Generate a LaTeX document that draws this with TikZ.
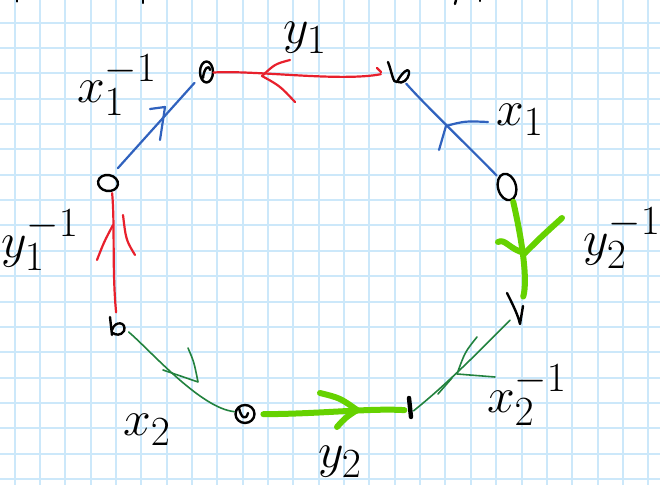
\documentclass[tikz,border=0pt]{standalone}
\usetikzlibrary{shapes.geometric}
\definecolor{gridblue}{RGB}{204,232,250}
\definecolor{penred}{RGB}{232,32,44}
\definecolor{penblue}{RGB}{48,98,190}
\definecolor{pendkgreen}{RGB}{34,130,62}
\definecolor{penlime}{RGB}{102,210,0}
\begin{document}
\begin{tikzpicture}[x=0.5pt,y=-0.5pt,line cap=round,line join=round,
    vtx/.style={circle,inner sep=0pt,minimum size=4pt},
    pen/.style={black,line width=1.2pt},
    redpen/.style={penred,line width=1.1pt},
    bluepen/.style={penblue,line width=1.1pt},
    dkpen/.style={pendkgreen,line width=0.8pt},
    limepen/.style={penlime,line width=3pt},
    lbl/.style={inner sep=0pt,font=\fontsize{30}{34}\selectfont}]
  \fill[white] (0,0) rectangle (660,485);
  \useasboundingbox (0,0) rectangle (660,485);
  % grid paper
  \foreach \i in {0,...,25}
    \draw[gridblue,line width=1pt] ({14.5+25.35*\i},0) -- ({14.5+25.35*\i},485);
  \foreach \j in {0,...,18}
    \draw[gridblue,line width=1pt] (0,{22.7+25.35*\j}) -- (660,{22.7+25.35*\j});
  % vertices
  \node[vtx] (a) at (206.5,72) {};
  \node[vtx] (b) at (398,72) {};
  \node[vtx] (c) at (507,187) {};
  \node[vtx] (d) at (515,310) {};
  \node[vtx] (e) at (410,408) {};
  \node[vtx] (f) at (245,414) {};
  \node[vtx] (g) at (118,326) {};
  \node[vtx] (h) at (108,183) {};
  \draw[pen] (a) ellipse [x radius=6.5,y radius=10.5];
  \draw[pen] (203,78) .. controls (204,68) and (209,64) .. (210,70);
  \draw[pen] (388,62) .. controls (392,72) and (393,84) .. (397,82)
    .. controls (402,72) and (410,66) .. (409,74) .. controls (408,80) and (402,84) .. (398,82);
  \draw[pen,rotate around={15:(c)}] (c) ellipse [x radius=9,y radius=13.5];
  \draw[pen] (507,293) .. controls (513,305) and (518,315) .. (520,324) -- (523,306);
  \draw[pen,line width=2.2pt] (409,398) -- (411,417);
  \draw[pen] (f) ellipse [x radius=9.5,y radius=9];
  \draw[pen] (239,408) .. controls (241,418) and (246,421) .. (248,413);
  \draw[pen] (110,317) -- (112,335);
  \draw[pen] (112,330) .. controls (115,320) and (127,322) .. (124,331)
    .. controls (121,336) and (115,335) .. (113,333);
  \draw[pen,rotate around={-10:(h)}] (h) ellipse [x radius=10,y radius=8];
  % cut-off strokes at the top edge
  \draw[pen] (17,0) -- (17,1.5);
  \draw[pen] (143,0) -- (143,3);
  \draw[pen] (456,0) -- (455,4);
  \draw[pen] (480,0) -- (480,1);
  % edges
  \draw[redpen,shorten <=6.5pt,shorten >=1.3pt]
    (b.177) .. controls (340,82) and (255,70) .. (a.-9);
  \draw[redpen] (381,72) -- (377,68);
  \draw[redpen] (290,60) .. controls (275,64) .. (262,76) .. controls (280,86) .. (295,102);
  \draw[bluepen,shorten <=5pt,shorten >=5.5pt]
    (b.-69) .. controls (425,105) and (470,148) .. (c.127);
  \draw[bluepen] (488,122) .. controls (465,121) .. (446,126) -- (439,150);
  \draw[limepen,shorten <=6.2pt,shorten >=7pt]
    (c.-38) .. controls (522,240) and (528,280) .. (d.0);
  \draw[limepen] (562,218) .. controls (540,238) .. (525,253);
  \draw[limepen] (498,242) .. controls (505,238) and (510,250) .. (525,253);
  \draw[dkpen,shorten <=4.2pt,shorten >=0.5pt]
    (d.-76) .. controls (490,340) and (450,382) .. (e.-53);
  \draw[dkpen] (477,337) .. controls (465,352) .. (457,374) -- (495,377);
  \draw[dkpen] (452,378) -- (438,394);
  \draw[limepen,shorten <=7pt,shorten >=0.9pt]
    (f.-3) .. controls (320,414) and (370,408) .. (e.-149);
  \draw[limepen] (320,393) .. controls (340,398) .. (357,410) .. controls (345,418) .. (337,427);
  \draw[dkpen,shorten <=4.1pt,shorten >=3.4pt]
    (g.-9) .. controls (150,350) and (200,408) .. (f.158);
  \draw[dkpen] (188,348) .. controls (194,362) .. (198,382) .. controls (180,376) .. (163,370);
  \draw[redpen,shorten <=4.7pt,shorten >=3.7pt]
    (g.103) .. controls (112,270) and (115,225) .. (h.-38);
  \draw[redpen] (113,225) .. controls (104,242) .. (97,260);
  \draw[redpen] (123,215) .. controls (126,240) .. (135,255);
  \draw[bluepen,shorten <=7pt,shorten >=6pt] (h.84) -- (a.-154);
  \draw[bluepen] (150,109) -- (165,107) -- (160,140);
  % labels
  \node[lbl] (ly1) at (305,38) {$y_1$};
  \node[lbl] (lx1i) at (117,85) {$x_1^{-1}$};
  \node[lbl] (lx1) at (520,120) {$x_1$};
  \node[lbl] (ly2i) at (622,238) {$y_2^{-1}$};
  \node[lbl] (ly1i) at (40,240) {$y_1^{-1}$};
  \node[lbl] (lx2i) at (527,395) {$x_2^{-1}$};
  \node[lbl] (lx2) at (147,430) {$x_2$};
  \node[lbl] (ly2) at (340,462) {$y_2$};
\end{tikzpicture}
\end{document}
